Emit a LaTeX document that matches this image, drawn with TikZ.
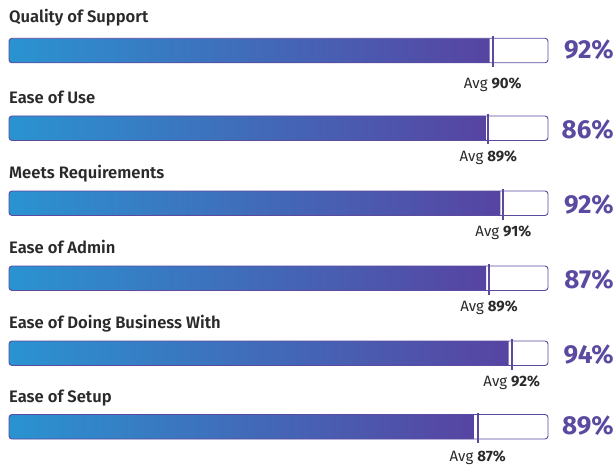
\documentclass[tikz,border=0pt]{standalone}
\usepackage{fontspec}
\setmainfont{Fira Sans}
\newfontfamily\semib{Fira Sans SemiBold}
\definecolor{barL}{HTML}{2A93D1}
\definecolor{barR}{HTML}{5744A2}
\definecolor{purp}{HTML}{5B4AA0}
\definecolor{ink}{HTML}{2A2A2A}
\tikzset{
  title/.style={anchor=base west, inner sep=0pt, text=ink, font=\semib\fontsize{16.6}{18}\selectfont},
  pct/.style={anchor=base east, inner sep=0pt, text=purp, font=\bfseries\fontsize{26}{30}\selectfont},
  avg/.style={anchor=base, inner sep=0pt, text=ink, font=\fontsize{15}{17}\selectfont},
  outline/.style={draw=purp, line width=0.9pt, rounded corners=3pt},
  marker/.style={draw=purp, line width=2pt},
}
% #1 name, #2 title, #3 bar top, #4 title baseline, #5 pct baseline, #6 pct text, #7 avg baseline, #8 avg value, #9 marker x
\newcommand\gbarrow[9]{%
  \pgfmathsetmacro\bT{#3}\pgfmathsetmacro\bB{#3+24.5}\pgfmathsetmacro\fE{#9-3}%
  \node[title] (#1t) at (9,#4) {#2};
  \shade[left color=barL, right color=barR] (\fE,\bT) [rounded corners=3pt] -- (9,\bT) -- (9,\bB) [sharp corners] -- (\fE,\bB) -- cycle;
  \draw[outline] (9,\bT) rectangle (548,\bB);
  \coordinate (#1m1) at (#9,\bT-2);
  \coordinate (#1m2) at (#9,\bB+4);
  \draw[marker] (#1m1) -- (#1m2);
  \node[pct] (#1p) at (614,#5) {#6};
  \node[avg] (#1a) at (#9,#7) {Avg \textbf{#8}};
}
\begin{document}
\begin{tikzpicture}[x=1pt,y=-1pt]
\useasboundingbox (0,0) rectangle (616,468);
\gbarrow{r1}{Quality of Support}{38.3}{22.7}{58.3}{92\%}{88.3}{90\%}{492.7}
\gbarrow{r2}{Ease of Use}{116}{103.3}{138.3}{86\%}{161.7}{89\%}{488.3}
\gbarrow{r3}{Meets Requirements}{191}{178.3}{213.3}{92\%}{236.7}{91\%}{503.3}
\gbarrow{r4}{Ease of Admin}{266}{253.3}{288.3}{87\%}{311.7}{89\%}{489}
\gbarrow{r5}{Ease of Doing Business With}{341}{328.3}{363.3}{94\%}{386.7}{92\%}{511.7}
\gbarrow{r6}{Ease of Setup}{414.5}{402.7}{434.3}{89\%}{461.7}{87\%}{477.7}
\end{tikzpicture}
\end{document}
